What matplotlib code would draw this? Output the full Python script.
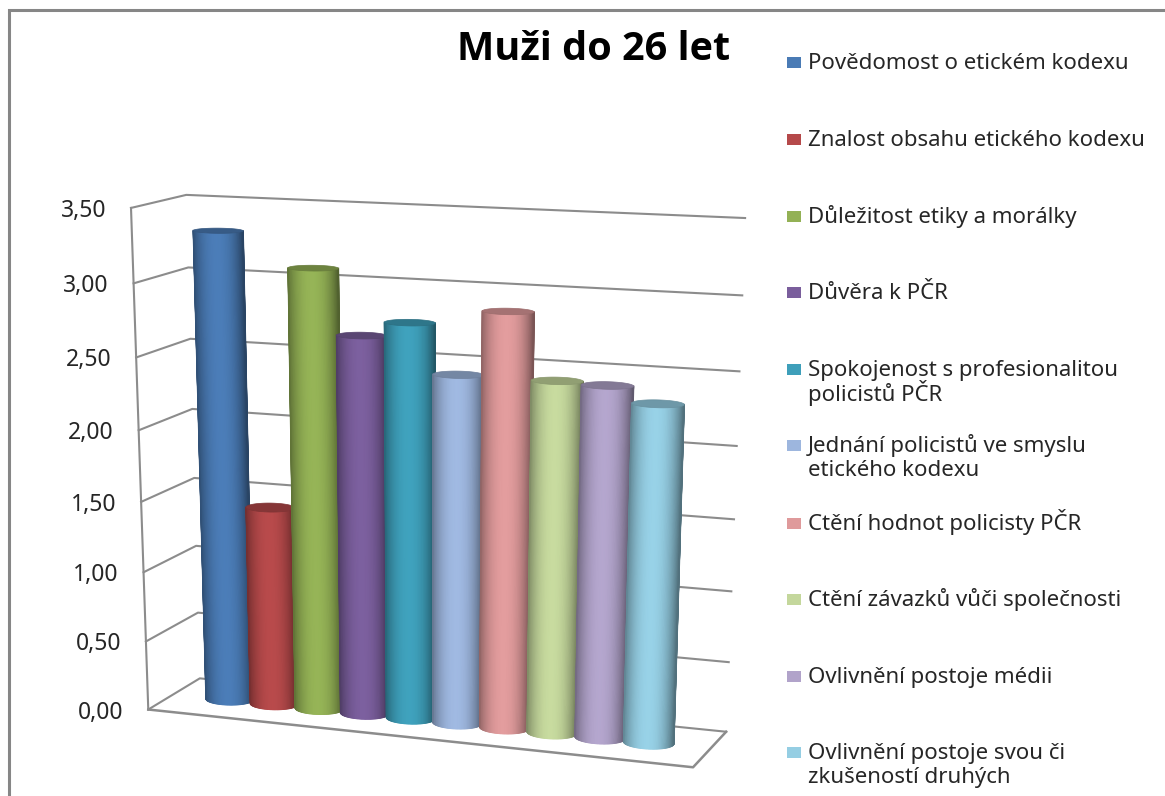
import numpy as np
import matplotlib
matplotlib.use('Agg')
import matplotlib.pyplot as plt
from matplotlib.patches import Polygon, Rectangle

plt.rcParams['font.family'] = ['Noto Sans', 'DejaVu Sans']

#Data
categories = ['Povědomost o etickém kodexu', 'Znalost obsahu etického kodexu',
              'Důležitost etiky a morálky', 'Důvěra k PČR',
              'Spokojenost s profesionalitou\npolicistů PČR',
              'Jednání policistů ve smyslu\netického kodexu',
              'Ctění hodnot policisty PČR', 'Ctění závazků vůči společnosti',
              'Ovlivnění postoje médii',
              'Ovlivnění postoje svou či\nzkušeností druhých']
values = [3.32, 1.43, 3.10, 2.665, 2.77, 2.44, 2.88, 2.44, 2.43, 2.33]
colors = ['#4A7BB5', '#B5494A', '#93B155', '#7A5E9C', '#3E9FBA',
          '#9DB6DE', '#DF9A9B', '#C4D79C', '#B1A3CA', '#95CEE3']
ticks = [0, 0.5, 1.0, 1.5, 2.0, 2.5, 3.0, 3.5]
tick_labels = ['0,00', '0,50', '1,00', '1,50', '2,00', '2,50', '3,00', '3,50']

line_col = '#8c8c8c'
text_col = '#262626'

#Camera, fitted on the box corners: (along, depth, value) -> pixel
corners = [((0, 0, 0), (148, 710)), ((1, 0, 0), (693, 767)), ((1, 1, 0), (726, 732)),
           ((0, 1, 0), (200, 678)), ((0, 0, 3.5), (131, 208)), ((0, 1, 3.5), (186, 195)),
           ((1, 1, 3.5), (745, 218)), ((0, 0, 2), (139, 430)), ((1, 1, 2), (737, 446))]
rows = []
for (a, d, v), (px, py) in corners:
    rows.append([a, d, v, 1, 0, 0, 0, 0, -px*a, -px*d, -px*v, -px])
    rows.append([0, 0, 0, 0, a, d, v, 1, -py*a, -py*d, -py*v, -py])
P = np.linalg.svd(np.array(rows, dtype=float))[2][-1].reshape(3, 4)


def project(a, d, v):
    w = P @ np.vstack([a, d, v, np.ones_like(a)])
    return w[0]/w[2], w[1]/w[2]


def pt(a, d, v):
    x, y = project(np.array([a], float), np.array([d], float), np.array([v], float))
    return x[0], y[0]


def shade(col, f):
    rgb = np.array(matplotlib.colors.to_rgb(col))
    return np.clip(rgb*f, 0, 1)


def cylinder(ax, a0, value, col, ra=0.0435, rd=0.165, d0=0.5):
    th = np.linspace(0, 2*np.pi, 361)
    xe, ye = project(a0 + ra*np.cos(th), d0 + rd*np.sin(th), np.full_like(th, value))
    th_l, th_r = th[np.argmin(xe)], th[np.argmax(xe)]
    if th_r < th_l:
        th_r += 2*np.pi
    # front half of the wall, between the two silhouette edges
    arc = np.linspace(th_l, th_r, 60)
    a = a0 + ra*np.cos(arc)
    d = d0 + rd*np.sin(arc)
    xb, yb = project(a, d, np.zeros_like(a))
    xu, yu = project(a, d, np.full_like(a, value))
    t = (xu - xu.min())/(xu.max() - xu.min())
    f = 1.02 - 0.47*np.abs((t-0.47)/0.53)**2.2
    rgb = np.array([shade(col, k) for k in f])
    ax.pcolormesh(np.vstack([xb, xu]), np.vstack([yb, yu]), np.stack([rgb, rgb]),
                  shading='gouraud', zorder=3)
    # smooth the edges, gouraud meshes are not antialiased
    ax.plot([xb[0], xu[0]], [yb[0], yu[0]], color=rgb[0], lw=1, zorder=3)
    ax.plot([xb[-1], xu[-1]], [yb[-1], yu[-1]], color=rgb[-1], lw=1, zorder=3)
    ax.add_patch(Polygon(np.c_[xe, ye], closed=True, fc=shade(col, 0.74), ec=shade(col, 0.70), lw=0.5, zorder=3))


fig = plt.figure(figsize=(11.65, 7.96), dpi=100)
ax = fig.add_axes([0, 0, 1, 1])
ax.set_xlim(0, 1165)
ax.set_ylim(796, 0)
ax.axis('off')

#Outer chart border
ax.plot([9, 9, 1165], [796, 9.5, 9.5], color='#868686', lw=2.2, solid_joinstyle='miter')

#Gridlines
for v, lab in zip(ticks, tick_labels):
    x0, y0 = pt(0, 0, v)
    x1, y1 = pt(0, 1, v)
    x2, y2 = pt(1, 1, v)
    ax.plot([x0, x1, x2], [y0, y1, y2], color=line_col, lw=1.5, zorder=1)
    ax.text(x0-25, y0+3, lab, ha='right', va='center', fontsize=16.5, color=text_col)

#Front of the floor and the left axis
fl, fr, br = pt(0, 0, 0), pt(1, 0, 0), pt(1, 1, 0)
ax.plot([fl[0], fr[0], br[0]], [fl[1], fr[1], br[1]], color=line_col, lw=1.8, zorder=1)
top = pt(0, 0, 3.5)
ax.plot([fl[0], top[0]], [fl[1], top[1]], color=line_col, lw=1.5, zorder=1)

#Cylinders, left to right so that each one overlaps the previous one
for i, (val, col) in enumerate(zip(values, colors)):
    cylinder(ax, 0.109 + 0.087*i, val, col)

#Title and legend
ax.text(594, 50, 'Muži do 26 let', ha='center', va='center', fontsize=28.5,
        fontweight='bold', family=['Open Sans', 'DejaVu Sans'], color='black')
leg_y = [62, 139, 216, 292, 369, 445, 523, 599, 676, 752]
for name, col, y in zip(categories, colors, leg_y):
    ax.add_patch(Rectangle((787, y-5.5), 14, 11, fc=col, ec='none'))
    for k, part in enumerate(name.split('\n')):
        ax.text(808, y + 7 + 24.5*k, part, ha='left', va='baseline', fontsize=16, color=text_col)

fig.savefig('out.png', dpi=100)
